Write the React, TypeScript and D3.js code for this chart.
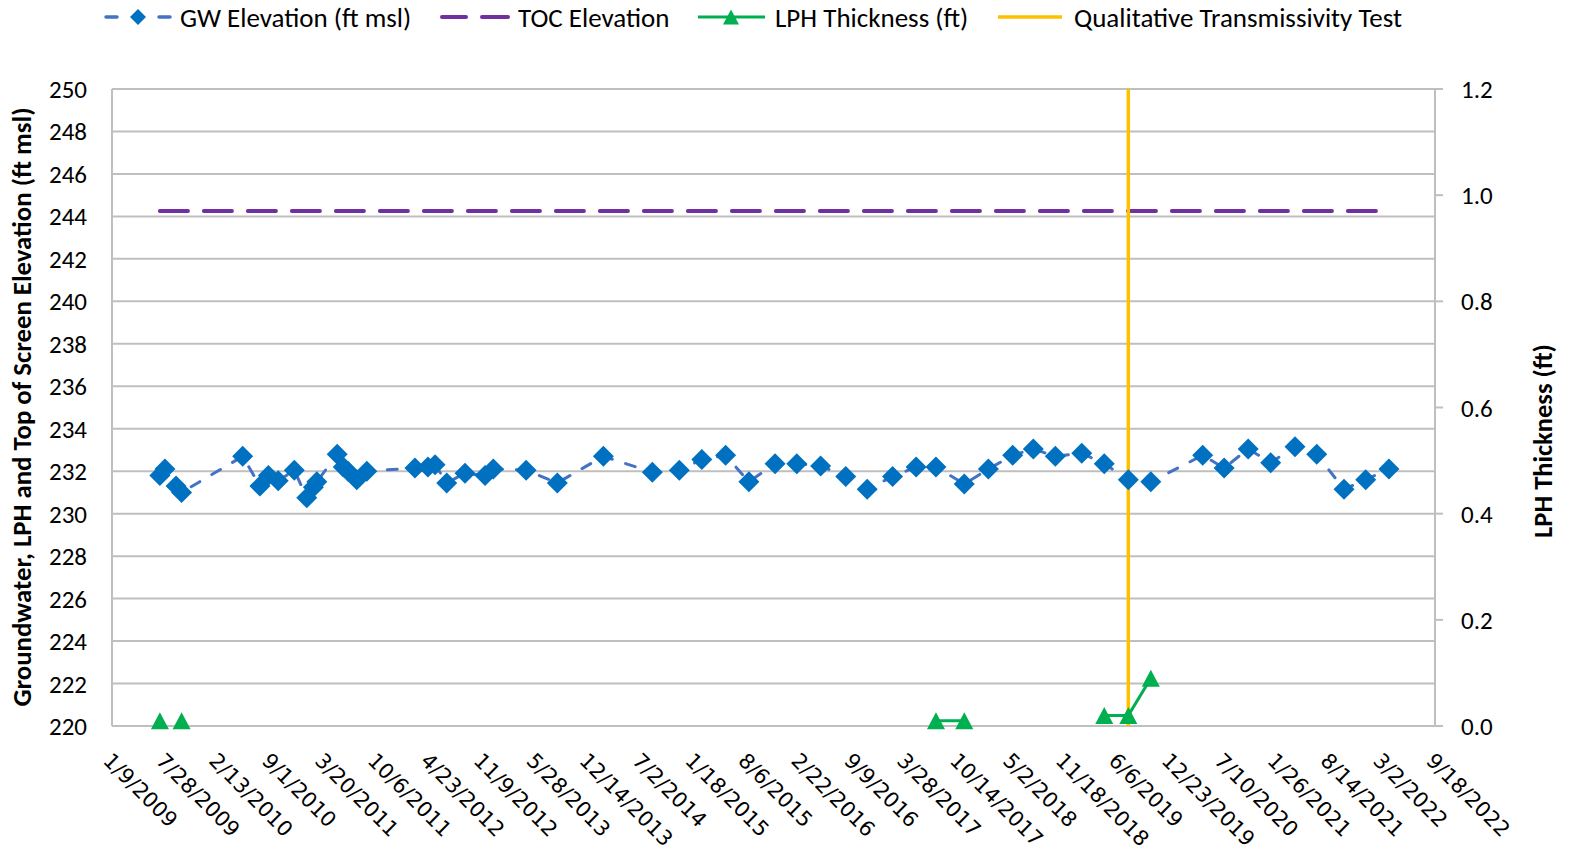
import React from "react";
import * as d3 from "d3";

// ---------------- DATA ----------------
const gwDates = [
  "2009-07-09", "2009-07-28", "2009-09-08", "2009-09-29",
  "2010-05-18", "2010-07-22", "2010-08-23", "2010-09-29", "2010-11-29",
  "2011-01-15", "2011-02-09", "2011-02-22", "2011-05-10", "2011-06-02", "2011-06-20", "2011-07-23", "2011-08-30",
  "2012-02-28", "2012-04-17", "2012-05-14", "2012-06-27", "2012-09-04", "2012-11-19", "2012-12-20",
  "2013-04-23", "2013-08-19",
  "2014-02-09", "2014-08-13", "2014-11-23",
  "2015-02-16", "2015-05-17", "2015-08-13", "2015-11-20",
  "2016-02-10", "2016-05-10", "2016-08-13", "2016-11-02",
  "2017-02-06", "2017-05-06", "2017-07-20", "2017-11-04",
  "2018-02-03", "2018-05-06", "2018-07-23", "2018-10-14",
  "2019-01-22", "2019-04-17", "2019-07-17", "2019-10-10",
  "2020-04-23", "2020-07-13", "2020-10-12",
  "2021-01-05", "2021-04-07", "2021-06-28", "2021-10-09", "2021-12-30",
  "2022-03-28",
];
const gwValues = [
  231.8, 232.1, 231.3, 231.0,
  232.7, 231.3, 231.8, 231.55, 232.05,
  230.75, 231.25, 231.5, 232.8, 232.2, 232.0, 231.6, 232.0,
  232.15, 232.2, 232.3, 231.45, 231.9, 231.8, 232.1,
  232.05, 231.45,
  232.7, 231.95, 232.05,
  232.55, 232.75, 231.5, 232.35,
  232.35, 232.25, 231.75, 231.15,
  231.75, 232.2, 232.2, 231.4,
  232.1, 232.75, 233.05, 232.7,
  232.85, 232.35, 231.6, 231.5,
  232.75, 232.15, 233.05,
  232.4, 233.15, 232.8, 231.15, 231.6,
  232.1,
];
// LPH thickness aligned with gwDates (null = not measured)
const lphValues: (number | null)[] = [
  0.01, null, null, 0.01,
  null, null, null, null, null,
  null, null, null, null, null, null, null, null,
  null, null, null, null, null, null, null,
  null, null,
  null, null, null,
  null, null, null, null,
  null, null, null, null,
  null, null, 0.01, 0.01,
  null, null, null, null,
  null, 0.02, 0.02, 0.09,
  null, null, null,
  null, null, null, null, null,
  null,
];
const tocDates = ["2009-07-09", "2022-03-28"];
const tocValues = [244.25, 244.25];
const testDate = "2019-07-17";

const xTickLabels = [
  "1/9/2009", "7/28/2009", "2/13/2010", "9/1/2010", "3/20/2011", "10/6/2011",
  "4/23/2012", "11/9/2012", "5/28/2013", "12/14/2013", "7/2/2014", "1/18/2015",
  "8/6/2015", "2/22/2016", "9/9/2016", "3/28/2017", "10/14/2017", "5/2/2018",
  "11/18/2018", "6/6/2019", "12/23/2019", "7/10/2020", "1/26/2021", "8/14/2021",
  "3/2/2022", "9/18/2022",
];
const yLeftTicks = [220, 222, 224, 226, 228, 230, 232, 234, 236, 238, 240, 242, 244, 246, 248, 250];
const yRightTicks = [0, 0.2, 0.4, 0.6, 0.8, 1.0, 1.2];

const legendLabels = [
  "GW Elevation (ft msl)",
  "TOC Elevation",
  "LPH Thickness (ft)",
  "Qualitative Transmissivity Test",
];
const leftTitle = "Groundwater, LPH and Top of Screen Elevation (ft msl)";
const rightTitle = "LPH Thickness (ft)";

// ---------------- STYLE ----------------
const W = 1570;
const H = 857;
const plot = { left: 112, right: 1435, top: 89, bottom: 726 };
const C = {
  grid: "#bfbfbf",
  gwLine: "#4472C4",
  gwMark: "#0070C0",
  toc: "#7030A0",
  lph: "#00B050",
  test: "#FFC000",
  text: "#000000",
};
const FONT = "Carlito, Calibri, Lato, 'Open Sans', sans-serif";
const DATE_FONT = "'DejaVu Sans', Verdana, sans-serif";

const diamondPath = (r: number) => `M0,${-r}L${r},0L0,${r}L${-r},0Z`;
const trianglePath = (w: number, h: number) => `M0,${-h / 2}L${w / 2},${h / 2}L${-w / 2},${h / 2}Z`;

export default function App() {
  const parseISO = d3.timeParse("%Y-%m-%d");
  const parseTick = d3.timeParse("%m/%d/%Y");
  const tickDates = xTickLabels.map((s) => parseTick(s) as Date);

  const x = d3
    .scaleTime()
    .domain([tickDates[0], tickDates[tickDates.length - 1]])
    .range([plot.left, plot.right]);
  const yL = d3.scaleLinear().domain([220, 250]).range([plot.bottom, plot.top]);
  const yR = d3.scaleLinear().domain([0, 1.2]).range([plot.bottom, plot.top]);

  const gw = gwDates.map((d, i) => ({ date: parseISO(d) as Date, v: gwValues[i], lph: lphValues[i] }));
  const toc = tocDates.map((d, i) => ({ date: parseISO(d) as Date, v: tocValues[i] }));
  const tDate = parseISO(testDate) as Date;

  const gwLine = d3
    .line<{ date: Date; v: number }>()
    .x((d) => x(d.date))
    .y((d) => yL(d.v));
  const lphLine = d3
    .line<{ date: Date; lph: number | null }>()
    .defined((d) => d.lph !== null)
    .x((d) => x(d.date))
    .y((d) => yR(d.lph as number));
  const tocLine = d3
    .line<{ date: Date; v: number }>()
    .x((d) => x(d.date))
    .y((d) => yL(d.v));

  const legendY = 17;
  const LFS = 27;

  return (
    <div style={{ position: "absolute", left: 0, top: 0 }}>
      <svg width={W} height={H} style={{ display: "block", background: "#fff" }}>
        <rect width={W} height={H} fill="#fff" />
        {/* grid */}
        {yLeftTicks.map((t) => (
          <line key={"g" + t} x1={plot.left} x2={plot.right} y1={yL(t)} y2={yL(t)} stroke={C.grid} strokeWidth={2} />
        ))}
        {/* axes */}
        <line x1={plot.left} x2={plot.left} y1={plot.top} y2={plot.bottom} stroke={C.grid} strokeWidth={2} />
        <line x1={plot.right} x2={plot.right} y1={plot.top} y2={plot.bottom} stroke={C.grid} strokeWidth={2} />
        {yRightTicks.map((t) => (
          <line key={"rt" + t} x1={plot.right} x2={plot.right + 8} y1={yR(t)} y2={yR(t)} stroke={C.grid} strokeWidth={2} />
        ))}

        {/* left tick labels */}
        {yLeftTicks.map((t) => (
          <text key={"lt" + t} x={87} y={yL(t)} dy="0.36em" textAnchor="end" fontFamily={FONT} fontSize={25} fill={C.text}>
            {t}
          </text>
        ))}
        {/* right tick labels */}
        {yRightTicks.map((t) => (
          <text key={"rl" + t} x={1461} y={yR(t)} dy="0.36em" textAnchor="start" fontFamily={FONT} fontSize={25} fill={C.text}>
            {d3.format(".1f")(t)}
          </text>
        ))}
        {/* x tick labels */}
        {tickDates.map((d, i) => {
          const tx = x(d) - 10;
          const ty = 762;
          return (
            <text
              key={"xt" + i}
              x={tx}
              y={ty}
              transform={`rotate(45 ${tx} ${ty})`}
              fontFamily={DATE_FONT}
              fontSize={21}
              fill={C.text}
            >
              {xTickLabels[i]}
            </text>
          );
        })}

        {/* axis titles */}
        <text
          x={31}
          y={407}
          transform={`rotate(-90 31 407)`}
          textAnchor="middle"
          fontFamily={FONT}
          fontWeight="bold"
          fontSize={26.8}
          fill={C.text}
        >
          {leftTitle}
        </text>
        <text
          x={1552}
          y={441}
          transform={`rotate(-90 1552 441)`}
          textAnchor="middle"
          fontFamily={FONT}
          fontWeight="bold"
          fontSize={26.5}
          fill={C.text}
        >
          {rightTitle}
        </text>

        {/* TOC line */}
        <path
          d={tocLine(toc) as string}
          fill="none"
          stroke={C.toc}
          strokeWidth={4}
          strokeDasharray="28,16"
          strokeLinecap="round"
        />

        {/* GW line */}
        <path
          d={gwLine(gw) as string}
          fill="none"
          stroke={C.gwLine}
          strokeWidth={3}
          strokeDasharray="10,14"
          strokeLinecap="round"
        />

        {/* test line */}
        <line x1={x(tDate)} x2={x(tDate)} y1={plot.top} y2={plot.bottom} stroke={C.test} strokeWidth={3.5} />

        {/* LPH line */}
        <path d={lphLine(gw) as string} fill="none" stroke={C.lph} strokeWidth={3} />

        {/* GW markers */}
        {gw.map((d, i) => (
          <path key={"gm" + i} d={diamondPath(10.5)} transform={`translate(${x(d.date)},${yL(d.v)})`} fill={C.gwMark} />
        ))}
        {/* LPH markers */}
        {gw
          .filter((d) => d.lph !== null)
          .map((d, i) => (
            <path
              key={"lm" + i}
              d={trianglePath(18, 17)}
              transform={`translate(${x(d.date)},${yR(d.lph as number)})`}
              fill={C.lph}
            />
          ))}

        {/* legend */}
        <g>
          <line x1={106} x2={117} y1={legendY} y2={legendY} stroke={C.gwLine} strokeWidth={3.5} strokeLinecap="round" />
          <line x1={159} x2={170} y1={legendY} y2={legendY} stroke={C.gwLine} strokeWidth={3.5} strokeLinecap="round" />
          <path d={diamondPath(8)} transform={`translate(138,${legendY})`} fill={C.gwMark} />
          <text x={180} y={legendY} dy="0.36em" fontFamily={FONT} fontSize={LFS} fill={C.text}>
            {legendLabels[0]}
          </text>

          <line x1={442} x2={466} y1={legendY} y2={legendY} stroke={C.toc} strokeWidth={4} strokeLinecap="round" />
          <line x1={482} x2={508} y1={legendY} y2={legendY} stroke={C.toc} strokeWidth={4} strokeLinecap="round" />
          <text x={518} y={legendY} dy="0.36em" fontFamily={FONT} fontSize={LFS} fill={C.text}>
            {legendLabels[1]}
          </text>

          <line x1={698} x2={765} y1={legendY} y2={legendY} stroke={C.lph} strokeWidth={3} />
          <path d={trianglePath(16, 15)} transform={`translate(731,${legendY})`} fill={C.lph} />
          <text x={775} y={legendY} dy="0.36em" fontFamily={FONT} fontSize={LFS} fill={C.text}>
            {legendLabels[2]}
          </text>

          <line x1={998} x2={1062} y1={legendY} y2={legendY} stroke={C.test} strokeWidth={3.5} />
          <text x={1074} y={legendY} dy="0.36em" fontFamily={FONT} fontSize={LFS} fill={C.text}>
            {legendLabels[3]}
          </text>
        </g>
      </svg>
    </div>
  );
}
